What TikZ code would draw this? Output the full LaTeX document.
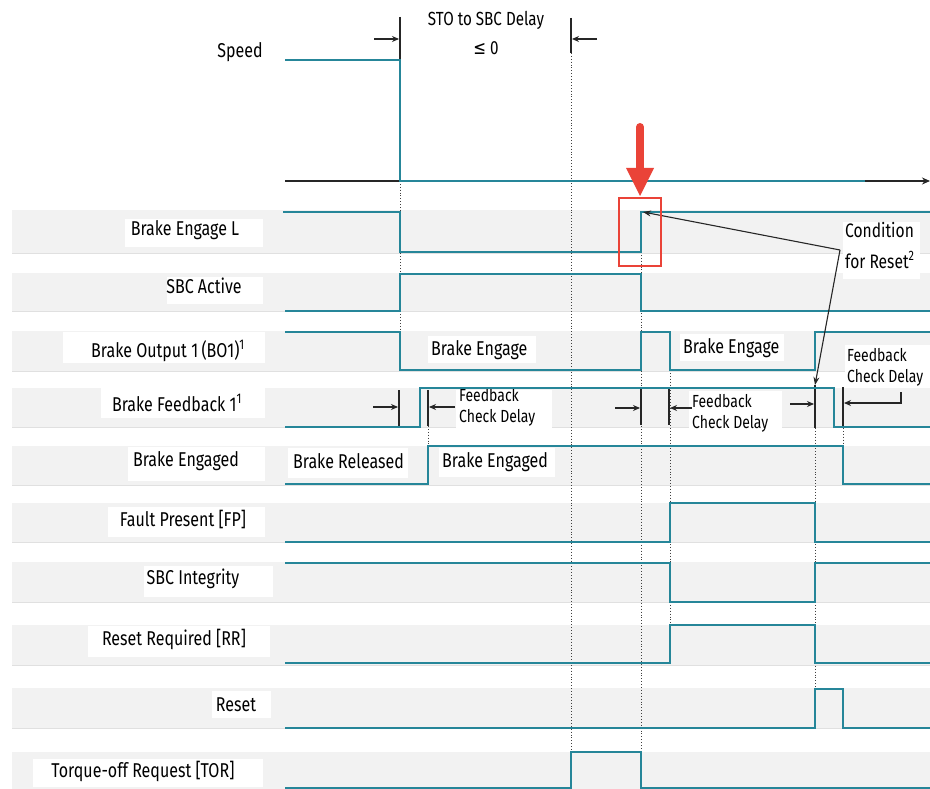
\documentclass[tikz,border=0pt]{standalone}
\usepackage{fontspec}
\setmainfont[FakeStretch=0.8]{Fira Sans}
\newfontfamily\symfont[FakeStretch=0.8]{DejaVu Sans}
\usetikzlibrary{arrows.meta}
\definecolor{sigc}{RGB}{38,134,153}
\definecolor{bandc}{RGB}{242,242,242}
\definecolor{redA}{RGB}{234,67,56}
\begin{document}
\begin{tikzpicture}[x=1pt,y=-1pt,
  sig/.style={draw=sigc,line width=2.4pt,line join=miter},
  bandbox/.style={fill=bandc},
  lbl/.style={inner sep=0pt,anchor=base,font=\fontsize{20}{22}\selectfont},
  lblin/.style={inner sep=0pt,anchor=base west,font=\fontsize{20}{22}\selectfont},
  smalltxt/.style={inner sep=0pt,anchor=north west,align=left,font=\fontsize{17.5}{21}\selectfont},
  dotl/.style={draw=black!75,dotted,line width=0.9pt},
  tickl/.style={draw=black!85,line width=1.1pt},
  dimarr/.style={draw=black!85,line width=1.1pt,-{Stealth[length=7pt,width=6pt]}},
  wbox/.style={fill=white}
]
\useasboundingbox (0,0) rectangle (930,789);
\fill[white] (0,0) rectangle (930,789);
% bands
\foreach \a/\b in {210/253,273/311,331/371,388/427,446/485,503/542,562/602,625/665,688/728,752/789}{
  \fill[bandc] (12,\a) rectangle (930,\b);
  \draw[black!12,line width=0.6pt] (12,\b) -- (930,\b);
}
% white label boxes (left column)
\fill[wbox] (125,219) rectangle (263,247);
\fill[wbox] (167,277) rectangle (263,304);
\fill[wbox] (63,332) rectangle (265,363);
\fill[wbox] (101,387) rectangle (265,418);
\fill[wbox] (128,447) rectangle (265,481);
\fill[wbox] (108,507) rectangle (265,537);
\fill[wbox] (144,566) rectangle (273,597);
\fill[wbox] (88,626) rectangle (270,657);
\fill[wbox] (212,691) rectangle (271,718);
\fill[wbox] (33,759) rectangle (263,787);
% white boxes inside plot
\fill[wbox] (428,336) rectangle (536,363);
\fill[wbox] (680,334) rectangle (784,361);
\fill[wbox] (288,448) rectangle (408,478);
\fill[wbox] (439,448) rectangle (555,477);
\fill[wbox] (456,390) rectangle (552,428);
\fill[wbox] (689,391) rectangle (782,433);
\fill[wbox] (845,345) rectangle (930,388);
\fill[wbox] (843,222) rectangle (920,279);

% left labels
\node[lbl] (lspeed) at (240,58) {Speed};
\node[lbl] (lbel) at (185,236) {Brake Engage L};
\node[lbl] (lsbc) at (204,293) {SBC Active};
\node[lbl] (lbo) at (168,357) {Brake Output 1\,(BO1)\textsuperscript{1}};
\node[lbl] (lbf) at (177,411) {Brake Feedback 1\textsuperscript{1}};
\node[lbl] (lbe) at (186,466) {Brake Engaged};
\node[lbl] (lfp) at (183,526) {Fault Present [FP]};
\node[lbl] (lsi) at (193,584) {SBC Integrity};
\node[lbl] (lrr) at (174,645) {Reset Required [RR]};
\node[lbl] (lrs) at (236,711) {Reset};
\node[lbl] (ltor) at (143,777) {Torque-off Request [TOR]};

% top texts
\node[lbl,font=\fontsize{19}{22}\selectfont] (tsto) at (486,26) {STO to SBC Delay};
\node[lbl,font=\fontsize{19}{22}\selectfont] (tle) at (486,55) {{\symfont ≤} 0};

% in-plot texts
\node[lblin] (tbe1) at (431,355) {Brake Engage};
\node[lblin] (tbe2) at (683,353) {Brake Engage};
\node[lblin] (tbr) at (293,468) {Brake Released};
\node[lblin] (tbd) at (442,467) {Brake Engaged};
\node[smalltxt] (fb1) at (459,388) {Feedback\\Check Delay};
\node[smalltxt] (fb2) at (692,394) {Feedback\\Check Delay};
\node[smalltxt] (fb3) at (847,348) {Feedback\\Check Delay};
\node[smalltxt,font=\fontsize{19.5}{31}\selectfont] (cond) at (845,222) {Condition\\for Reset\textsuperscript{2}};

% dotted time lines
\draw[dotl] (400,181) -- (400,332);
\draw[dotl] (428,426) -- (428,446);
\draw[dotl] (571,53) -- (571,752);
\draw[dotl] (641,252) -- (641,752);
\draw[dotl] (670,370) -- (670,625);
\draw[dotl] (815,428) -- (815,689);
\draw[dotl] (843,428) -- (843,446);

% top dimension
\draw[tickl] (400,17) -- (400,60);
\draw[tickl] (571,18) -- (571,53);
\coordinate (da1) at (374,39); \coordinate (da1e) at (399,39);
\coordinate (da2) at (597,39); \coordinate (da2e) at (572,39);
\draw[dimarr] (da1) -- (da1e);
\draw[dimarr] (da2) -- (da2e);

% speed axis
\coordinate (ax0) at (285,181); \coordinate (ax1) at (930,181);
\draw[black!85,line width=1.2pt,-{Stealth[length=8pt,width=7pt]}] (ax0) -- (ax1);

% feedback check markers
\draw[tickl] (399,390) -- (399,426);
\draw[tickl] (428,390) -- (428,426);
\draw[tickl] (641,387) -- (641,425);
\draw[tickl] (669,387) -- (669,425);
\draw[tickl] (815,385) -- (815,428);
\draw[tickl] (843,387) -- (843,428);
\coordinate (m1) at (373,407); \coordinate (m1e) at (398,407);
\coordinate (m2) at (455,407); \coordinate (m2e) at (429,407);
\coordinate (m3) at (615,408); \coordinate (m3e) at (640,408);
\coordinate (m4) at (692,408); \coordinate (m4e) at (670,408);
\coordinate (m5) at (790,404); \coordinate (m5e) at (814,404);
\coordinate (m6) at (901,392); \coordinate (m6e) at (844,403);
\draw[dimarr] (m1) -- (m1e);
\draw[dimarr] (m2) -- (m2e);
\draw[dimarr] (m3) -- (m3e);
\draw[dimarr] (m4) -- (m4e);
\draw[dimarr] (m5) -- (m5e);
\draw[dimarr] (m6) |- (m6e);

% signals
\draw[sig] (285,60) -- (400,60) -- (400,181) -- (865,181);
\draw[sig] (283,212) -- (400,212) -- (400,252) -- (641,252) -- (641,212) -- (930,212);
\draw[sig] (285,311) -- (400,311) -- (400,274) -- (641,274) -- (641,311) -- (930,311);
\draw[sig] (285,332) -- (400,332) -- (400,370) -- (641,370) -- (641,332) -- (670,332) -- (670,370) -- (815,370) -- (815,332) -- (930,332);
\draw[sig] (285,427) -- (420,427) -- (420,388) -- (834,388) -- (834,427) -- (930,427);
\draw[sig] (285,484) -- (428,484) -- (428,446) -- (843,446) -- (843,484) -- (930,484);
\draw[sig] (285,542) -- (670,542) -- (670,503) -- (815,503) -- (815,542) -- (930,542);
\draw[sig] (285,563) -- (670,563) -- (670,602) -- (815,602) -- (815,563) -- (930,563);
\draw[sig] (285,663) -- (670,663) -- (670,625) -- (815,625) -- (815,663) -- (930,663);
\draw[sig] (285,728) -- (815,728) -- (815,689) -- (843,689) -- (843,728) -- (930,728);
\draw[sig] (285,788) -- (571,788) -- (571,752) -- (641,752) -- (641,788) -- (930,788);

% condition for reset arrows
\coordinate (cr) at (840,250);
\coordinate (crA) at (643,212);
\coordinate (crB) at (815,385);
\draw[black!85,line width=1.1pt,-{Stealth[length=8pt,width=6pt]}] (cr) -- (crA);
\draw[black!85,line width=1.1pt,-{Stealth[length=8pt,width=6pt]}] (cr) -- (crB);

% red marker
\draw[redA,line width=2pt] (619,198) rectangle (661,266);
\draw[redA,line width=8pt,line cap=round] (640,127) -- (640,170);
\fill[redA] (626,168) -- (654,168) -- (640,196) -- cycle;
\end{tikzpicture}
\end{document}
